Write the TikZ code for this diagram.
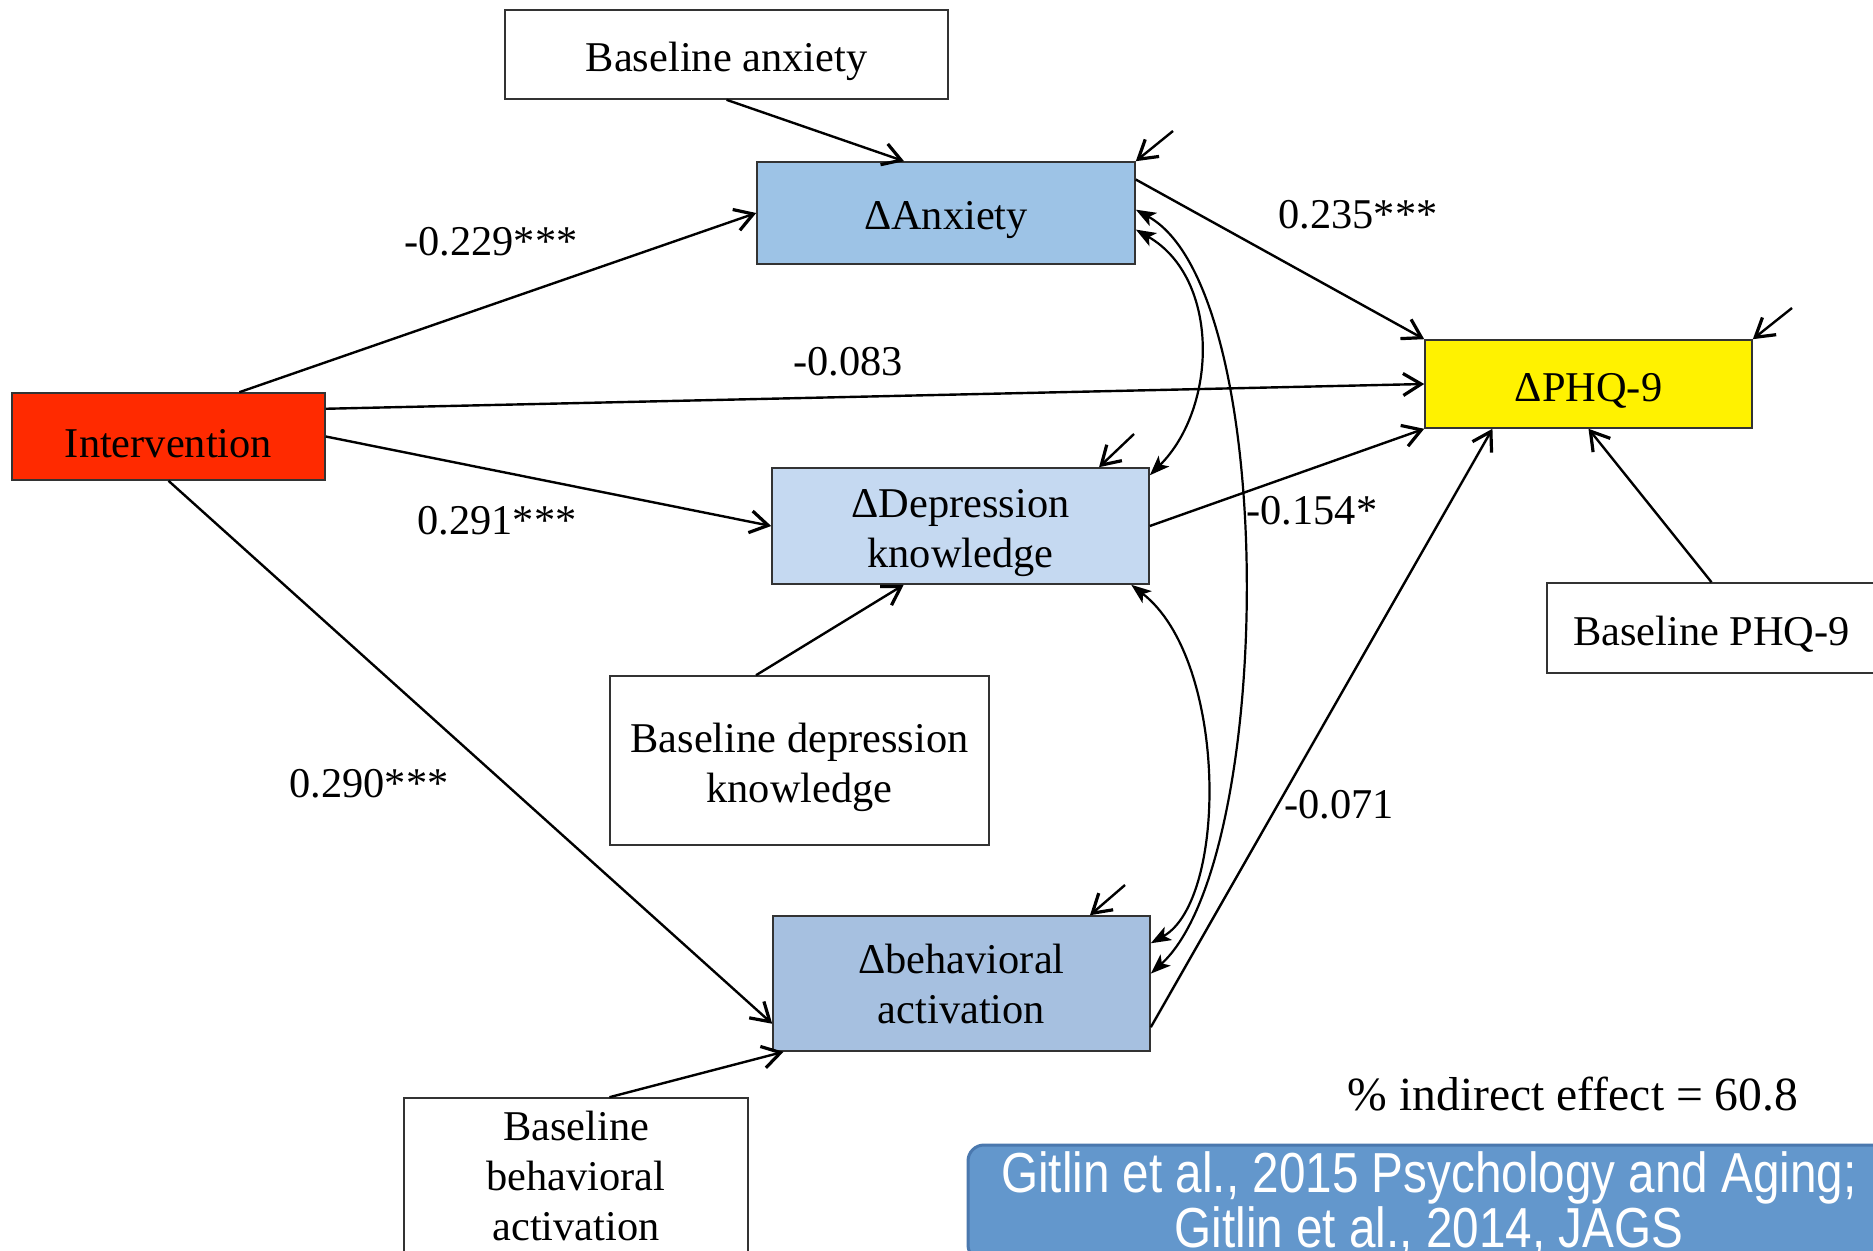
\documentclass[tikz,border=0pt]{standalone}
\usepackage{fontspec}
\setmainfont{Liberation Serif}
\newfontfamily\citefont[FakeStretch=0.845]{Liberation Sans}
\usetikzlibrary{arrows.meta}
\definecolor{anxblue}{HTML}{9DC3E6}
\definecolor{depblue}{HTML}{C5D9F1}
\definecolor{behblue}{HTML}{A6C0E0}
\definecolor{intred}{HTML}{FF2A00}
\definecolor{citeblue}{HTML}{6397CC}
\definecolor{citeedge}{HTML}{4A78AE}
\newcommand{\tallstrut}{\rule{0pt}{1em}}
\begin{document}
\begin{tikzpicture}
[x=0.5pt, y=-0.5pt, font=\fontsize{21.2}{25}\selectfont]
\tikzstyle{var}=[rectangle, draw=black!80, line width=0.8pt, align=center, inner sep=0pt]
\tikzstyle{eff}=[line width=1.2pt, -{Straight Barb[length=9pt, width=11pt, line width=1.6pt]}]
\tikzstyle{cov}=[line width=1.1pt, {Stealth[length=10pt, width=7.5pt, inset=2.5pt]}-{Stealth[length=10pt, width=7.5pt, inset=2.5pt]}]
\tikzstyle{coef}=[inner sep=0pt]
\useasboundingbox (0,0) rectangle (1873,1251);

\node[var, minimum width=221.5pt, minimum height=44.5pt]	(banx)	at (726.5,54.5)	{\tallstrut Baseline anxiety};
\node[var, fill=anxblue, minimum width=189pt, minimum height=51pt]	(anx)	at (946,213)	{\tallstrut ΔAnxiety};
\node[var, fill=intred, minimum width=156.5pt, minimum height=43.5pt]	(interv)	at (168.5,436.5)	{\tallstrut Intervention};
\node[var, fill=yellow, minimum width=163.5pt, minimum height=44pt]	(phq)	at (1588.5,384)	{\tallstrut ΔPHQ-9};
\node[var, fill=depblue, minimum width=188.5pt, minimum height=58pt]	(dep)	at (960.5,526)	{\tallstrut ΔDepression\\knowledge};
\node[var, minimum width=189.5pt, minimum height=84.5pt]	(bdep)	at (799.5,760.5)	{\tallstrut Baseline depression\\knowledge};
\node[var, fill=behblue, minimum width=188.5pt, minimum height=67.5pt]	(beh)	at (961.5,983.5)	{Δbehavioral\\activation};
\node[var, minimum width=172pt, minimum height=78pt]	(bbeh)	at (576,1176)	{Baseline\\behavioral\\activation};
\node[var, minimum width=164.5pt, minimum height=45pt]	(bphq)	at (1711.5,628)	{\tallstrut Baseline PHQ-9};

\node[coef]	(k1)	at (491,242)	{-0.229***};
\node[coef]	(k2)	at (1358,215)	{0.235***};
\node[coef]	(k3)	at (848,362)	{-0.083};
\node[coef]	(k4)	at (497,521)	{0.291***};
\node[coef]	(k5)	at (1312,511)	{-0.154*};
\node[coef]	(k6)	at (369,784)	{0.290***};
\node[coef]	(k7)	at (1339,805)	{-0.071};
\node[coef, font=\fontsize{23.8}{26}\selectfont]	(ind)	at (1573,1094)	{\% indirect effect = 60.8};

\node[draw=citeedge, line width=1.5pt, fill=citeblue, rounded corners=8pt, text=white, align=center, minimum width=461pt, minimum height=57pt, font=\citefont\fontsize{28.2}{24.5}\selectfont]	(cite)	at (1429,1203)	{Gitlin et al., 2015 Psychology and Aging;\\Gitlin et al., 2014, JAGS};

\coordinate	(ranx)	at (1173,131);
\coordinate	(rphq)	at (1792,308);
\coordinate	(rdep)	at (1134,434);
\coordinate	(rbeh)	at (1125,885);

\draw[eff]	(banx.south) -- (anx.129);
\draw[eff]	(interv.32) -- (anx.west);
\draw[eff]	(interv.10) -- (phq.west);
\draw[eff]	(interv.east) -- (dep.west);
\draw[eff]	(interv.south) -- (beh.192);
\draw[eff]	(anx.10) -- (phq.north west);
\draw[eff]	(dep.east) -- (phq.south west);
\draw[eff]	(beh.-13) -- (phq.205);
\draw[eff]	(bphq.north) -- (phq.south);
\draw[eff]	(bdep.117) -- (dep.226);
\draw[eff]	(bbeh.67) -- (beh.201);
\draw[eff]	(ranx) -- (anx.north east);
\draw[eff]	(rphq) -- (phq.north east);
\draw[eff]	(rdep) -- (dep.23);
\draw[eff]	(rbeh) -- (beh.28);

\draw[cov]	(anx.-5) .. controls (1220,278) and (1218,407) .. (dep.15);
\draw[cov]	(anx.1) .. controls (1280,290) and (1275,860) .. (beh.3);
\draw[cov]	(dep.-19) .. controls (1228,660) and (1228,900) .. (beh.12);
\end{tikzpicture}
\end{document}
